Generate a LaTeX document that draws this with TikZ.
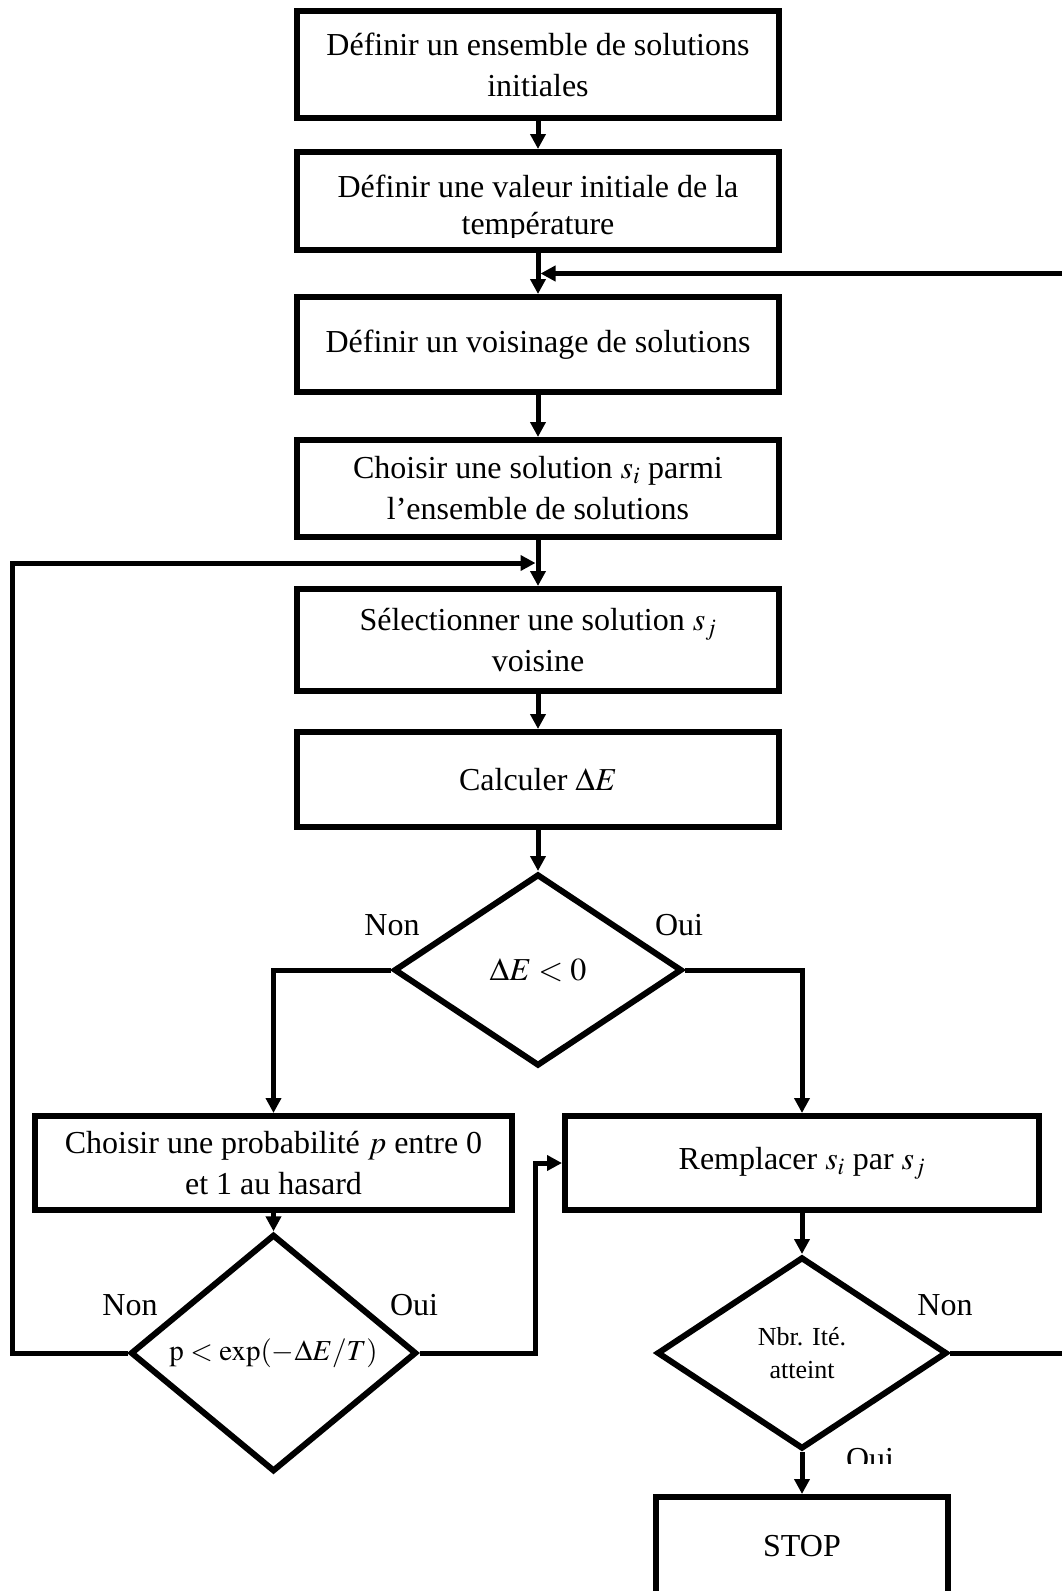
\documentclass[tikz,border=0pt]{standalone}
\usepackage{mathptmx}
\usepackage{fontspec}
\setmainfont{Liberation Serif}
\usetikzlibrary{arrows.meta,shapes.geometric,calc}

\begin{document}
\begin{tikzpicture}[x=1pt,y=-1pt,
  every node/.style={font=\fontsize{32}{41}\selectfont, inner sep=0pt},
  box/.style={draw, line width=6pt, align=center},
  decision/.style={diamond, draw, line width=6pt, align=center},
  arr/.style={line width=5pt, -{Triangle[length=15pt,width=15pt]}},
  lbl/.style={font=\fontsize{32}{41}\selectfont}]

\fill[white] (0,0) rectangle (1061,1591);
\useasboundingbox (0,0) rectangle (1061,1591);

% main column
\node[box, minimum width=482pt, minimum height=107pt] (b1) at (538,64.5)
  {Définir un ensemble de solutions\\ initiales};
\node[box, minimum width=482pt, minimum height=98pt] (b2) at (538,201) {};
\begin{scope}
  \clip (300,155) rectangle (776,237);
  \node[align=center, font=\fontsize{32}{37}\selectfont] (b2txt) at (538,208)
    {Définir une valeur initiale de la\\ température};
\end{scope}
\node[box, minimum width=482pt, minimum height=95pt] (b3) at (538,344.5)
  {Définir un voisinage de solutions};
\node[box, minimum width=482pt, minimum height=97pt] (b4) at (538,488.5)
  {Choisir une solution $s_i$ parmi\\ l’ensemble de solutions};
\node[box, minimum width=482pt, minimum height=102pt] (b5) at (538,640)
  {Sélectionner une solution $s_j$\\ voisine};
\node[box, minimum width=482pt, minimum height=95pt] (b6) at (538,779.5)
  {Calculer $\Delta E$};
\node[decision, minimum width=288pt, minimum height=192pt] (d1) at (538,970)
  {$\Delta E < 0$};

% branches
\node[box, minimum width=477pt, minimum height=94pt] (b7) at (273.5,1163)
  {Choisir une probabilité $p$ entre 0\\ et 1 au hasard};
\node[box, minimum width=474pt, minimum height=94pt] (b8) at (802,1163)
  {Remplacer $s_i$ par $s_j$};
\node[decision, minimum width=286pt, minimum height=194pt,
      font=\fontsize{29}{36}\selectfont] (d2) at (273.5,1353)
  {$\mathrm{p} < \exp(-\Delta E/T)$};
\node[decision, minimum width=290pt, minimum height=192pt,
      font=\fontsize{26}{33}\selectfont] (d3) at (802,1353)
  {Nbr. Ité.\\ atteint};
\node[box, minimum width=292pt, minimum height=146pt] (stop) at (802,1570) {};
\node (stoptxt) at (802,1546) {STOP};

% labels
\node[lbl] (n1) at (392,925) {Non};
\node[lbl] (o1) at (679,925) {Oui};
\node[lbl] (n2) at (130,1305) {Non};
\node[lbl] (o2) at (414,1305) {Oui};
\node[lbl] (n3) at (945,1305) {Non};
\begin{scope}
  \clip (840,1435) rectangle (900,1463);
  \node[lbl, anchor=base] (o3) at (870,1469) {Oui};
\end{scope}

% junction points
\coordinate (jR) at ($(b2.south)!0.5!(b3.north)$);
\coordinate (jL) at ($(b4.south)!0.5!(b5.north)$);
\coordinate (xr) at (1066,0);
\coordinate (xl) at (12,0);
\coordinate (xm) at (535,0);

% connectors
\draw[arr] (b1.south) -- (b2.north);
\draw[arr] (b2.south) -- (b3.north);
\draw[arr] (b3.south) -- (b4.north);
\draw[arr] (b4.south) -- (b5.north);
\draw[arr] (b5.south) -- (b6.north);
\draw[arr] (b6.south) -- (d1.north);
\draw[arr] (d1.west) -| (b7.north);
\draw[arr] (d1.east) -| (b8.north);
\draw[arr] (b7.south) -- (d2.north);
\draw[arr] (b8.south) -- (d3.north);
\draw[arr] (d3.south) -- (stop.north);
\draw[arr, shorten >=2.5pt] (d2.west) -- (d2.west -| xl) |- (jL);
\draw[arr] (d2.east) -- (d2.east -| xm) |- (b8.west);
\draw[arr, shorten >=2.5pt] (d3.east) -- (d3.east -| xr) |- (jR);
\end{tikzpicture}
\end{document}
